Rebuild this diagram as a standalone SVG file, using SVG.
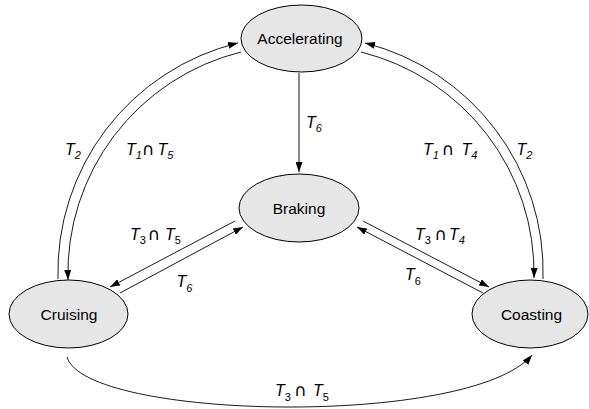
<svg xmlns="http://www.w3.org/2000/svg" width="589" height="409" viewBox="0 0 589 409">
<style>
.node ellipse{fill:#e6e6e6;stroke:#000;stroke-width:1}
.node text{font-family:"Liberation Sans",Arial,sans-serif;font-size:15.5px;text-anchor:middle;fill:#000}
.edge{fill:none;stroke:#000;stroke-width:0.9}
.lbl{font-family:"Liberation Sans",Arial,sans-serif;font-size:16px;fill:#000}
.it{font-style:italic}
.sub{font-size:11px}
.cap{font-family:"DejaVu Sans",sans-serif;font-size:17px;text-anchor:middle;fill:#000}
</style>
<defs>
<marker id="arr" viewBox="0 0 10 7" refX="10" refY="3.5" markerWidth="10" markerHeight="7" markerUnits="userSpaceOnUse" orient="auto">
<path d="M0,0 L10,3.5 L0,7 z" fill="#000"/>
</marker>
</defs>
<rect width="589" height="409" fill="#fff"/>
<g id="connectors">
<path class="edge" d="M299,73 L299,172" marker-end="url(#arr)"/>
<path class="edge" d="M58,279 A236,236 0 0 1 238,43" marker-end="url(#arr)"/>
<path class="edge" d="M241,52 A228,228 0 0 0 68,280" marker-end="url(#arr)"/>
<path class="edge" d="M543,279 A236,236 0 0 0 365,43" marker-end="url(#arr)"/>
<path class="edge" d="M361,52 A228,228 0 0 1 534,278" marker-end="url(#arr)"/>
<path class="edge" d="M235,221 L110,287" marker-end="url(#arr)"/>
<path class="edge" d="M120,293 L243,227" marker-end="url(#arr)"/>
<path class="edge" d="M363,221 L489,287" marker-end="url(#arr)"/>
<path class="edge" d="M483,293 L357,227" marker-end="url(#arr)"/>
<path class="edge" d="M67,357 C85,420 470,428 532,355" marker-end="url(#arr)"/>
</g>
<g id="labels">
<text class="lbl" y="128"><tspan x="306" class="it">T</tspan><tspan class="it sub" dy="4">6</tspan></text>
<text class="lbl" y="155"><tspan x="65" class="it">T</tspan><tspan class="it sub" dy="4">2</tspan></text>
<text class="lbl" y="155"><tspan x="126" class="it">T</tspan><tspan class="it sub" dy="4">1</tspan><tspan x="157.5" dy="-4" class="it">T</tspan><tspan class="it sub" dy="4">5</tspan></text>
<text class="cap" x="148.3" y="155">∩</text>
<text class="lbl" y="155"><tspan x="423" class="it">T</tspan><tspan class="it sub" dy="4">1</tspan><tspan x="461.5" dy="-4" class="it">T</tspan><tspan class="it sub" dy="4">4</tspan></text>
<text class="cap" x="448" y="155">∩</text>
<text class="lbl" y="155"><tspan x="516.5" class="it">T</tspan><tspan class="it sub" dy="4">2</tspan></text>
<text class="lbl" y="240"><tspan x="130" class="it">T</tspan><tspan class="sub" dy="4">3</tspan><tspan x="165" dy="-4" class="it">T</tspan><tspan class="sub" dy="4">5</tspan></text>
<text class="cap" x="154" y="240">∩</text>
<text class="lbl" y="287"><tspan x="176.5" class="it">T</tspan><tspan class="it sub" dy="5">6</tspan></text>
<text class="lbl" y="240"><tspan x="415" class="it">T</tspan><tspan class="sub" dy="4">3</tspan><tspan x="449" dy="-4" class="it">T</tspan><tspan class="it sub" dy="4">4</tspan></text>
<text class="cap" x="440.8" y="240">∩</text>
<text class="lbl" y="280"><tspan x="405" class="it">T</tspan><tspan class="sub" dy="5">6</tspan></text>
<text class="lbl" y="396"><tspan x="275" class="it">T</tspan><tspan class="sub" dy="5">3</tspan><tspan x="313" dy="-5" class="it">T</tspan><tspan class="sub" dy="5">5</tspan></text>
<text class="cap" x="300.5" y="396">∩</text>
</g>
<g id="accelerating" class="node"><ellipse cx="301.5" cy="38.5" rx="60.5" ry="33.5"/><text x="300" y="44.3">Accelerating</text></g>
<g id="braking" class="node"><ellipse cx="299" cy="208" rx="60" ry="34"/><text x="299" y="213.5">Braking</text></g>
<g id="cruising" class="node"><ellipse cx="68.5" cy="314" rx="59.5" ry="34"/><text x="69" y="319.5">Cruising</text></g>
<g id="coasting" class="node"><ellipse cx="530" cy="314" rx="58" ry="34"/><text x="531.5" y="319.5">Coasting</text></g>
</svg>
